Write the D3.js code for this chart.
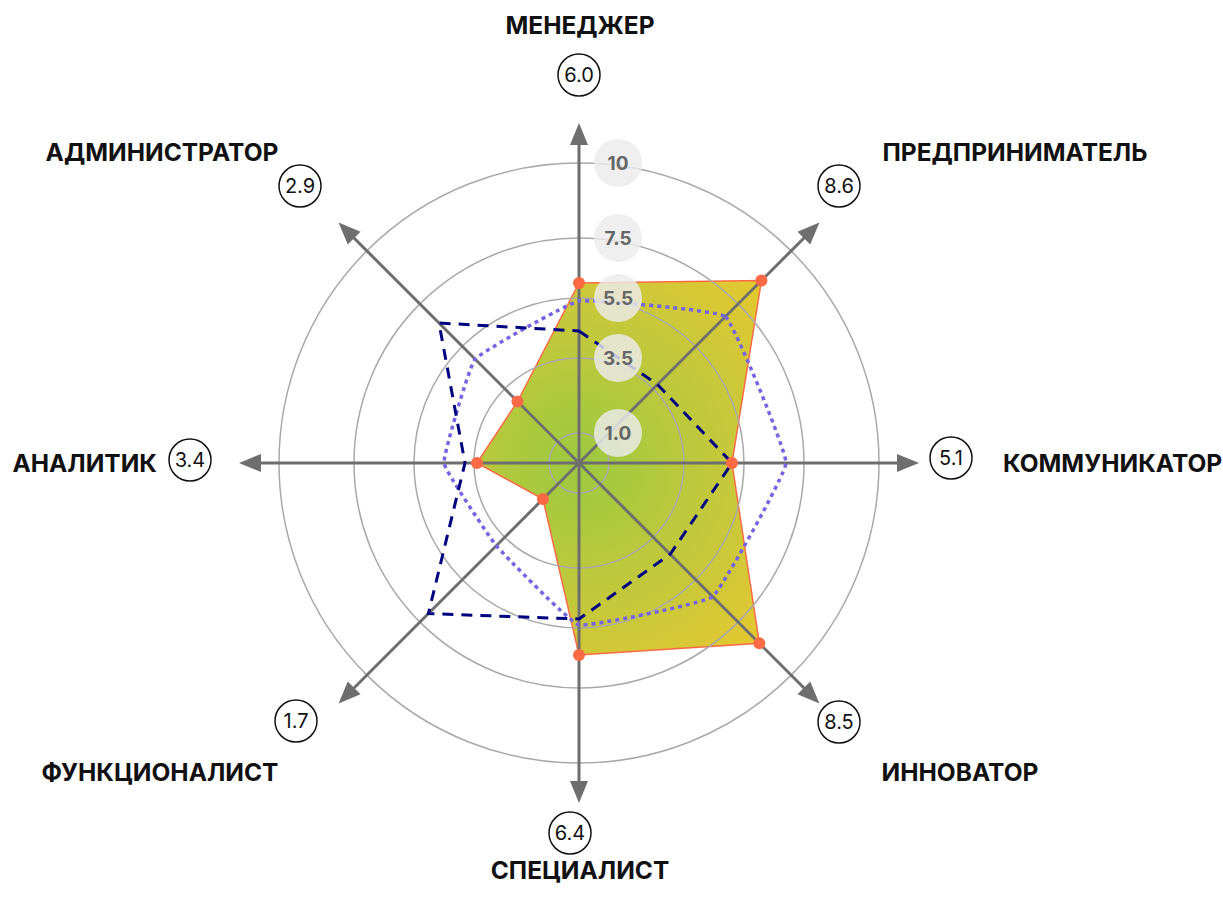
<!DOCTYPE html>
<html>
<head>
<meta charset="utf-8">
<script src="https://cdn.jsdelivr.net/npm/d3@7"></script>
<style>
  html, body { margin: 0; padding: 0; background: #fff; }
  svg { display: block; }
</style>
</head>
<body>
<svg id="chart"></svg>
<script>
// roles, clockwise from the top
const categories = ["МЕНЕДЖЕР", "ПРЕДПРИНИМАТЕЛЬ", "КОММУНИКАТОР", "ИННОВАТОР",
                    "СПЕЦИАЛИСТ", "ФУНКЦИОНАЛИСТ", "АНАЛИТИК", "АДМИНИСТРАТОР"];
const mainValues   = [6.0, 8.6, 5.1, 8.5, 6.4, 1.7, 3.4, 2.9];
const navyValues   = [4.4, 3.7, 5.1, 4.3, 5.2, 7.1, 3.8, 6.6];
const purpleValues = [5.4, 6.9, 6.9, 6.3, 5.4, 3.9, 4.5, 4.9];
const ringTicks = [1.0, 3.5, 5.5, 7.5, 10];
const ringLabels = ["1.0", "3.5", "5.5", "7.5", "10"];

const width = 1223, height = 909;
const cx = 579, cy = 463;

// badge / label offsets from the centre (layout only)
const badgePos = [[0,-388],[260,-277],[372,-5],[260,259],[-9,370],[-283,258],[-389,-3],[-279,-277]];
const labelPos = [[1,-438,"middle"],[436,-311,"middle"],[424,0,"start"],[381,309,"middle"],
                  [1,407,"middle"],[-419,309,"middle"],[-422,0,"end"],[-417,-311,"middle"]];

const svg = d3.select("#chart").attr("width", width).attr("height", height);
const r = d3.scaleLinear().domain([0, 10]).range([0, 300]);
const angle = i => i * 2 * Math.PI / categories.length;
const pt = (i, v) => [Math.sin(angle(i)) * r(v), -Math.cos(angle(i)) * r(v)];

const defs = svg.append("defs");
const grad = defs.append("radialGradient").attr("id", "fillGrad")
  .attr("gradientUnits", "userSpaceOnUse").attr("cx", 0).attr("cy", 0).attr("r", 290);
grad.append("stop").attr("offset", "0%").attr("stop-color", "#9cc940");
grad.append("stop").attr("offset", "55%").attr("stop-color", "#c9c83a");
grad.append("stop").attr("offset", "100%").attr("stop-color", "#eec82c");

const g = svg.append("g").attr("transform", `translate(${cx},${cy})`);

const radial = d3.lineRadial()
  .angle((d, i) => angle(i))
  .radius(d => r(d))
  .curve(d3.curveLinearClosed);

// main filled area
g.append("path").datum(mainValues)
  .attr("d", radial)
  .attr("fill", "url(#fillGrad)")
  .attr("stroke", "#ff6a45").attr("stroke-width", 1.5);

// rings
g.selectAll(".ring").data(ringTicks).join("circle")
  .attr("class", "ring")
  .attr("r", d => r(d))
  .attr("fill", "none").attr("stroke", "#a9a9a9").attr("stroke-width", 1.5);

// axes with arrowheads
const axisLen = 340, headLen = 22, headHalf = 9;
categories.forEach((c, i) => {
  const a = angle(i), sx = Math.sin(a), sy = -Math.cos(a);
  const px = -sy, py = sx;
  g.append("line").attr("x1", 0).attr("y1", 0)
    .attr("x2", sx * (axisLen - headLen + 2)).attr("y2", sy * (axisLen - headLen + 2))
    .attr("stroke", "#6e6e6e").attr("stroke-width", 3);
  const b = axisLen - headLen;
  g.append("path")
    .attr("d", `M${sx * axisLen},${sy * axisLen}L${sx * b + px * headHalf},${sy * b + py * headHalf}L${sx * b - px * headHalf},${sy * b - py * headHalf}Z`)
    .attr("fill", "#6e6e6e");
});

// comparison series
g.append("path").datum(purpleValues)
  .attr("d", radial.curve(d3.curveCardinalClosed.tension(0.75)))
  .attr("fill", "none").attr("stroke", "#7663e6").attr("stroke-width", 3.5)
  .attr("stroke-dasharray", "4,4");
radial.curve(d3.curveLinearClosed);
g.append("path").datum(navyValues)
  .attr("d", radial)
  .attr("fill", "none").attr("stroke", "#000080").attr("stroke-width", 3)
  .attr("stroke-dasharray", "11,8");

// main points
g.selectAll(".dot").data(mainValues).join("circle")
  .attr("class", "dot")
  .attr("cx", (d, i) => pt(i, d)[0]).attr("cy", (d, i) => pt(i, d)[1])
  .attr("r", 6).attr("fill", "#ff6a45");

// ring labels
const rl = g.selectAll(".rl").data(ringTicks).join("g")
  .attr("class", "rl")
  .attr("transform", d => `translate(39,${-r(d)})`);
rl.append("circle").attr("r", 24).attr("fill", "#ececec").attr("fill-opacity", 0.82);
rl.append("text").text((d, i) => ringLabels[i])
  .attr("text-anchor", "middle").attr("dy", "0.36em")
  .attr("font-family", "Inter, 'DejaVu Sans', sans-serif").attr("font-weight", 700)
  .attr("font-size", 19).attr("fill", "#666");

// value badges
const badges = g.selectAll(".badge").data(mainValues).join("g")
  .attr("class", "badge")
  .attr("transform", (d, i) => `translate(${badgePos[i][0]},${badgePos[i][1]})`);
badges.append("circle").attr("r", 21).attr("fill", "#fff")
  .attr("stroke", "#111").attr("stroke-width", 1.5);
badges.append("text").text(d => d.toFixed(1))
  .attr("text-anchor", "middle").attr("dy", "0.36em")
  .attr("font-family", "Inter, 'DejaVu Sans', sans-serif").attr("font-size", 20)
  .attr("fill", "#111");

// category labels
g.selectAll(".cat").data(categories).join("text")
  .attr("class", "cat")
  .attr("x", (d, i) => labelPos[i][0]).attr("y", (d, i) => labelPos[i][1])
  .attr("text-anchor", (d, i) => labelPos[i][2]).attr("dy", "0.36em")
  .attr("font-family", "Inter, 'DejaVu Sans', sans-serif").attr("font-weight", 700)
  .attr("font-size", 24.5).attr("fill", "#111")
  .text(d => d);
</script>
</body>
</html>
